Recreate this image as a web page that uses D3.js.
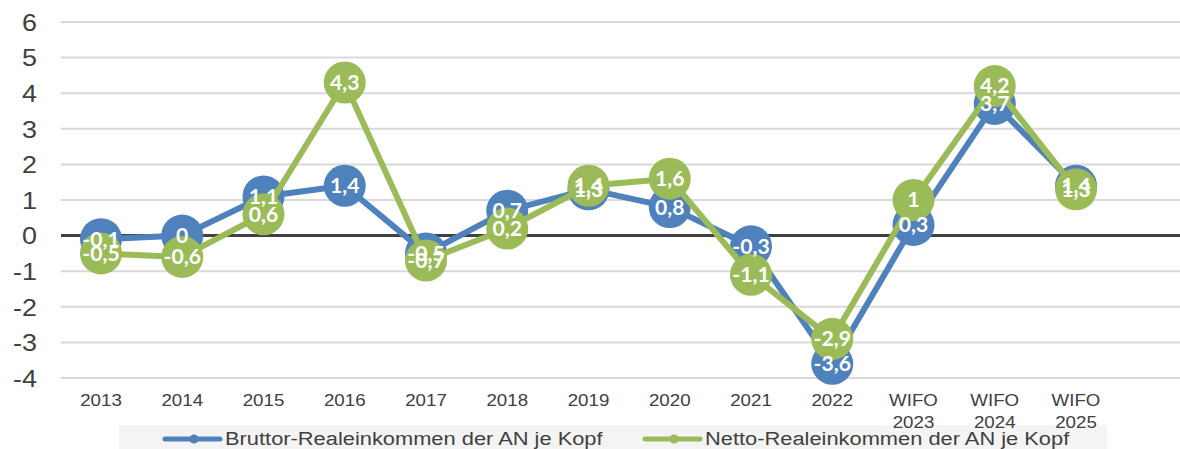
<!DOCTYPE html>
<html><head><meta charset="utf-8">
<script src="https://cdn.jsdelivr.net/npm/d3@7"></script>
<style>body{margin:0;background:#fff}svg{display:block}</style>
</head><body>
<svg id="c" width="1180" height="449"></svg>
<script>
const categories = ["2013","2014","2015","2016","2017","2018","2019","2020","2021","2022","WIFO\n2023","WIFO\n2024","WIFO\n2025"];
const brutto = [-0.1, 0, 1.1, 1.4, -0.5, 0.7, 1.3, 0.8, -0.3, -3.6, 0.3, 3.7, 1.4];
const netto  = [-0.5, -0.6, 0.6, 4.3, -0.7, 0.2, 1.4, 1.6, -1.1, -2.9, 1, 4.2, 1.3];
const yTicks = [-4,-3,-2,-1,0,1,2,3,4,5,6];
const seriesNames = ["Bruttor-Realeinkommen der AN je Kopf","Netto-Realeinkommen der AN je Kopf"];
const colors = ["#4F81BD","#9BBB59"];

const SX = 1.17;
const svg = d3.select("#c");
const x = d3.scalePoint().domain(categories).range([101, 1076]);
const y = d3.scaleLinear().domain([-4, 6]).range([378, 22]);
const fmt = v => String(v).replace(".", ",");

// gridlines
svg.append("g").selectAll("line").data(yTicks.filter(t => t !== 0)).join("line")
  .attr("x1", 61).attr("x2", 1180).attr("y1", d => y(d)).attr("y2", d => y(d))
  .attr("stroke", "#d9d9d9").attr("stroke-width", 2);

// y axis labels
const yAxis = d3.axisLeft(y).tickValues(yTicks).tickSize(0).tickPadding(0).tickFormat(d => d);
const gy = svg.append("g").attr("transform", "translate(37,0)").call(yAxis);
gy.select(".domain").remove();
gy.selectAll(".tick text").attr("font-family", "Liberation Sans, Arial, sans-serif").attr("font-size", 23)
  .attr("fill", "#404040").attr("dy", "0.36em").attr("x", 0)
  .attr("transform", `scale(${SX},1)`);

// zero line
svg.append("line").attr("x1", 61).attr("x2", 1180).attr("y1", y(0)).attr("y2", y(0))
  .attr("stroke", "#404040").attr("stroke-width", 3);

// legend background
svg.append("rect").attr("x", 119).attr("y", 425).attr("width", 988).attr("height", 30).attr("fill", "#f4f4f4");

// x labels
const gx = svg.append("g");
categories.forEach(c => {
  const lines = c.split("\n");
  const t = gx.append("text").attr("transform", `translate(${x(c)},406) scale(${SX},1)`)
    .attr("text-anchor", "middle").attr("font-family", "Liberation Sans, Arial, sans-serif")
    .attr("font-size", 16).attr("fill", "#404040");
  lines.forEach((l, i) => t.append("tspan").attr("x", 0).attr("dy", i === 0 ? 0 : 22).text(l));
});

// series
const line = d3.line().x((d, i) => x(categories[i])).y(d => y(d));
[brutto, netto].forEach((s, k) => {
  const g = svg.append("g");
  g.append("path").datum(s).attr("d", line).attr("fill", "none")
    .attr("stroke", colors[k]).attr("stroke-width", 6).attr("stroke-linejoin", "round");
  g.selectAll("circle").data(s).join("circle")
    .attr("cx", (d, i) => x(categories[i])).attr("cy", d => y(d)).attr("r", 21).attr("fill", colors[k]);
});
// labels
[brutto, netto].forEach((s, k) => {
  svg.append("g").selectAll("text").data(s).join("text")
    .attr("transform", (d, i) => `translate(${x(categories[i])},${y(d)}) scale(1.06,1)`)
    .attr("text-anchor", "middle").attr("dy", "0.37em")
    .attr("font-family", "Lato, sans-serif").attr("font-weight", 700).attr("font-size", 20)
    .attr("fill", "#fff").text(d => fmt(d));
});

// legend
const legX = [165, 645];
seriesNames.forEach((n, k) => {
  const g = svg.append("g");
  g.append("line").attr("x1", legX[k]).attr("x2", legX[k] + 55).attr("y1", 439).attr("y2", 439)
    .attr("stroke", colors[k]).attr("stroke-width", 5).attr("stroke-linecap", "round");
  g.append("circle").attr("cx", legX[k] + 29).attr("cy", 439).attr("r", 4.5).attr("fill", colors[k]);
  g.append("text").attr("transform", `translate(${legX[k] + 60},445) scale(1.15,1)`)
    .attr("font-family", "Liberation Sans, Arial, sans-serif").attr("font-size", 19)
    .attr("fill", "#404040").text(n);
});
</script>
</body></html>
